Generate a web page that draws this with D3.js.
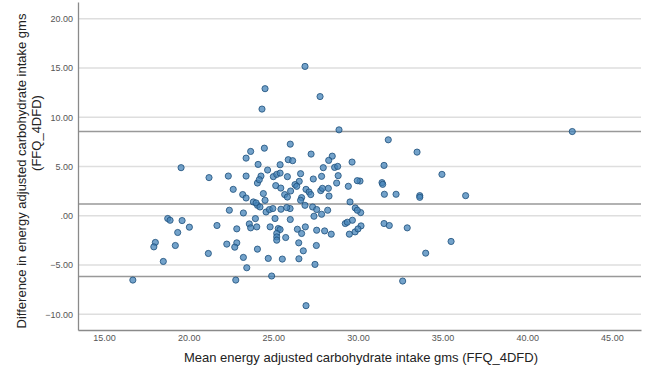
<!DOCTYPE html>
<html>
<head>
    <meta charset="utf-8">
    <style>
        body { margin: 0; background: #fff; }
        text { font-family: "Liberation Sans", Arial, sans-serif; }
        line.grid { stroke: #dedede; stroke-width: 1.3px; }
        line.ref { stroke: #999; stroke-width: 1.5px; }
        circle.pt {
            fill: #4483b8;
            fill-opacity: 0.75;
            stroke: #1d4f7a;
            stroke-width: 1px;
            stroke-opacity: 0.8;
        }
        text.tick { font-size: 9px; fill: #555; }
        text.title { font-size: 13px; fill: #222; }
    </style>
</head>
<body>
<div id="chart"></div>
<script src="https://cdn.jsdelivr.net/npm/d3@7"></script>
<script>

    // mean of the two methods (x) and their difference (y)
    var meanX = [
        26.87, 24.51, 27.76, 24.33, 28.88, 42.66,
        31.79, 33.49, 31.54, 34.96, 31.42, 31.46, 30.12, 31.56, 32.25, 33.65, 33.65, 36.36,
        30.16, 30.18, 31.54, 31.85, 32.91, 35.50, 34.00, 32.64,
        23.66, 23.39, 24.10, 19.55, 21.20, 22.34, 23.39, 24.06, 22.63, 23.19, 23.39, 23.82,
        24.06, 22.40, 23.23, 18.76, 18.90, 19.61, 23.94, 20.04, 21.67, 22.84, 23.58, 23.66,
        24.02, 19.35, 18.03, 17.94, 19.21, 22.25, 22.84, 22.72, 24.06, 21.16, 18.50, 23.23,
        23.43, 16.70, 22.78,
        26.00, 24.47, 27.23, 28.48, 28.27, 25.88, 26.14, 29.65, 25.40, 27.95, 28.62, 28.80,
        24.66, 24.27, 25.00, 25.20, 25.40, 25.83, 26.61, 27.85, 28.83, 27.36, 29.96, 24.17,
        26.53, 26.28, 26.38, 28.74, 29.43, 25.14, 25.44, 26.93, 27.11, 27.21, 27.80, 27.90,
        28.25, 25.67, 25.83, 26.02, 26.67, 26.61, 28.29, 24.41, 23.98, 24.51, 24.21, 24.57,
        24.77, 24.97, 25.45, 25.99, 25.79, 26.87, 27.32, 27.56, 28.21, 27.40, 27.85, 29.53,
        29.84, 29.96, 25.10, 26.00, 24.81, 25.29, 25.40, 25.20, 25.20, 25.20, 25.73, 26.42,
        26.89, 26.67, 27.56, 28.03, 28.42, 29.25, 29.37, 29.67, 29.49, 29.83, 30.00, 26.50,
        26.77, 27.54, 24.70, 25.53, 26.51, 27.46, 24.90, 26.93
    ];
    var diffY = [
        15.16, 12.90, 12.10, 10.83, 8.72, 8.55,
        7.71, 6.46, 5.11, 4.20, 3.36, 3.19, 3.52, 2.18, 2.18, 2.04, 1.87, 2.04,
        0.32, -1.03, -0.79, -0.99, -1.23, -2.61, -3.80, -6.63,
        6.53, 5.85, 5.21, 4.88, 3.87, 4.03, 4.03, 3.32, 2.68, 2.15, 1.80, 1.40,
        1.06, 0.56, 0.28, -0.28, -0.46, -0.49, -0.29, -1.16, -0.99, -1.33, -0.83, -1.23,
        -1.13, -1.70, -2.71, -3.16, -3.02, -2.88, -2.75, -3.19, -3.39, -3.83, -4.64, -4.23,
        -5.28, -6.53, -6.53,
        7.27, 6.86, 6.26, 6.05, 5.62, 5.69, 5.59, 5.45, 5.18, 4.88, 4.91, 5.01,
        4.64, 4.03, 3.97, 4.20, 4.33, 3.97, 4.27, 4.00, 4.07, 3.73, 3.56, 3.66,
        3.49, 3.16, 2.99, 3.32, 2.99, 3.06, 2.81, 2.68, 2.41, 2.15, 2.55, 2.78,
        2.78, 2.15, 1.90, 2.51, 1.84, 1.57, 2.00, 2.25, 1.30, 1.57, 0.89, 0.38,
        0.63, 0.73, 0.66, 0.73, 0.83, 1.06, 0.89, 0.63, 0.56, -0.05, 0.15, 1.40,
        0.79, 0.56, -0.28, -0.38, -1.13, -1.30, -1.40, -1.80, -2.15, -2.48, -2.21, -1.37,
        -1.13, -1.80, -1.47, -1.54, -1.87, -0.79, -0.66, -0.46, -1.87, -1.64, -1.34, -2.75,
        -3.56, -3.02, -4.33, -4.40, -4.37, -4.94, -6.12, -9.13
    ];

    // mean difference and limits of agreement
    var refLines = [8.54, 1.19, -6.17];

    var xTicks = [15, 20, 25, 30, 35, 40, 45];
    var yTicks = [-10, -5, 0, 5, 10, 15, 20];

    var width = 645, height = 374;
    var plotLeft = 78, plotRight = 641, plotTop = 2, plotBottom = 330;

    var svg = d3.select("#chart").append("svg")
        .attr("width", width)
        .attr("height", height);

    var x = d3.scaleLinear().domain([13.46, 46.72]).range([plotLeft, plotRight]);
    var y = d3.scaleLinear().domain([-11.6, 21.7]).range([plotBottom, plotTop]);

    var fmt = function (v) {
        return v === 0 ? ".00" : d3.format(".2f")(v);
    };

    // grid
    svg.append("g").selectAll("line.grid")
        .data(yTicks)
        .enter().append("line")
        .attr("class", "grid")
        .attr("x1", plotLeft).attr("x2", plotRight)
        .attr("y1", function (d) { return y(d); })
        .attr("y2", function (d) { return y(d); });

    // reference lines
    svg.append("g").selectAll("line.ref")
        .data(refLines)
        .enter().append("line")
        .attr("class", "ref")
        .attr("x1", plotLeft).attr("x2", plotRight)
        .attr("y1", function (d) { return y(d); })
        .attr("y2", function (d) { return y(d); });

    // axes
    var yAxis = svg.append("g")
        .attr("transform", "translate(" + plotLeft + ",0)")
        .call(d3.axisLeft(y).tickValues(yTicks).tickFormat(fmt).tickSize(0).tickPadding(5));
    var xAxis = svg.append("g")
        .attr("transform", "translate(0," + plotBottom + ")")
        .call(d3.axisBottom(x).tickValues(xTicks).tickFormat(fmt).tickSize(0).tickPadding(5));

    [xAxis, yAxis].forEach(function (g) {
        g.attr("font-family", null).attr("font-size", null);
        g.select(".domain").attr("stroke", "#8a8a8a").attr("stroke-width", 1.3);
        g.selectAll("text").attr("class", "tick").attr("fill", null);
    });

    // points
    svg.append("g").selectAll("circle.pt")
        .data(meanX)
        .enter().append("circle")
        .attr("class", "pt")
        .attr("r", 3.1)
        .attr("cx", function (d) { return x(d); })
        .attr("cy", function (d, i) { return y(diffY[i]); });

    // titles
    svg.append("text")
        .attr("class", "title")
        .attr("x", 361).attr("y", 362)
        .attr("text-anchor", "middle")
        .text("Mean energy adjusted carbohydrate intake gms (FFQ_4DFD)");

    svg.append("text")
        .attr("class", "title")
        .attr("transform", "translate(26,171) rotate(-90)")
        .attr("text-anchor", "middle")
        .text("Difference in energy adjusted carbohydrate intake gms");

    svg.append("text")
        .attr("class", "title")
        .attr("transform", "translate(41,133) rotate(-90)")
        .attr("text-anchor", "middle")
        .text("(FFQ_4DFD)");

</script>
</body>
</html>
